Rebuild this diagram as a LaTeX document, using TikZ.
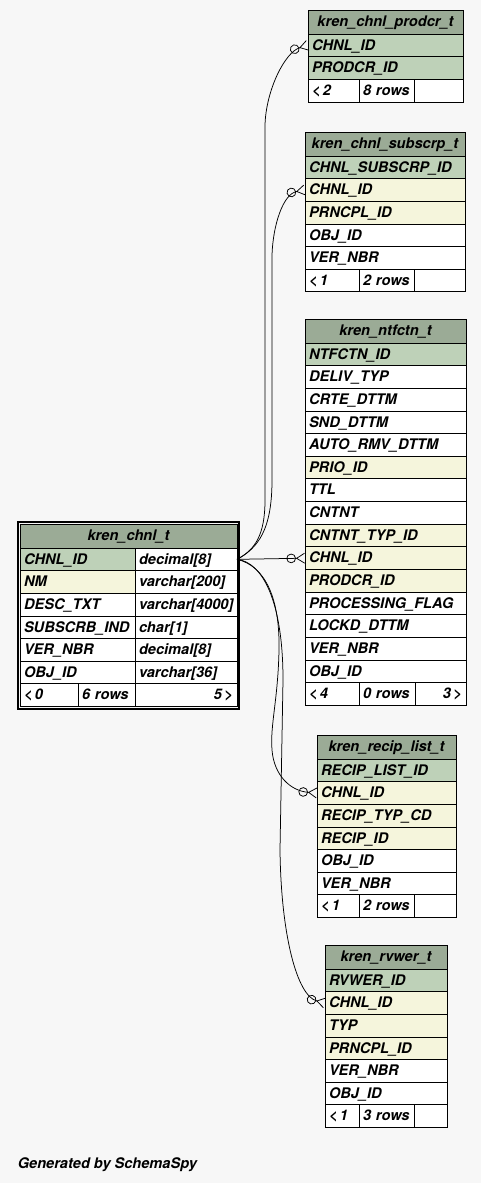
\documentclass[tikz,border=0pt]{standalone}
\usepackage{fontspec}
\setmainfont{TeX Gyre Heros}
\usepackage{xcolor}
\usepackage{tikz}
\usetikzlibrary{arrows.meta}
\usetikzlibrary{positioning}
\definecolor{bggray}{HTML}{F7F7F7}
\definecolor{headgreen}{HTML}{9BAB96}
\definecolor{keygreen}{HTML}{BED1B8}
\definecolor{idxbeige}{HTML}{F5F5DC}
\newcommand{\tfont}{\fontsize{14.6}{16}\selectfont\bfseries\itshape}

\begin{document}
\begin{tikzpicture}[x=1pt,y=-1pt,line width=0.9pt,
    cell/.style={rectangle,draw,fill=white,text width=#1,minimum height=22.65pt,
      inner xsep=4pt,inner ysep=0pt,outer sep=0pt,text height=10.5pt,text depth=1pt,
      align=left,font=\tfont},
    head/.style={cell=#1,fill=headgreen,minimum height=24pt,align=center}]
    \tikzstyle{pkcol} = [fill=keygreen]
    \tikzstyle{idxcol} = [fill=idxbeige]
    \tikzstyle{fk} = [line width=0.75pt,-{Circle[open,length=9.5pt] Straight Barb[reversed,length=8pt,width=10pt]}]
    \fill[bggray] (0,0) rectangle (481,1183);
    \useasboundingbox (0,0) rectangle (481,1183);
        %%% kren_chnl_prodcr_t %%%
        \node[head=147,anchor=north west] (prodcr) at (308,10) {kren\_chnl\_prodcr\_t};
        \node[cell=147,pkcol,below=0pt of prodcr] (prodcr1) {CHNL\_ID};
        \node[cell=147,pkcol,below=0pt of prodcr1] (prodcr2) {PRODCR\_ID};
        \node[cell=43,anchor=north west] (prodcrf1) at (prodcr2.south west) {<\,2};
        \node[cell=47,right=0pt of prodcrf1] (prodcrf2) {8 rows};
        \node[cell=41,right=0pt of prodcrf2] (prodcrf3) {};
        %%% kren_chnl_subscrp_t %%%
        \node[head=152,anchor=north west] (subscrp) at (305,132) {kren\_chnl\_subscrp\_t};
        \node[cell=152,pkcol,below=0pt of subscrp] (subscrp1) {CHNL\_SUBSCRP\_ID};
        \node[cell=152,idxcol,below=0pt of subscrp1] (subscrp2) {CHNL\_ID};
        \node[cell=152,idxcol,below=0pt of subscrp2] (subscrp3) {PRNCPL\_ID};
        \node[cell=152,below=0pt of subscrp3] (subscrp4) {OBJ\_ID};
        \node[cell=152,below=0pt of subscrp4] (subscrp5) {VER\_NBR};
        \node[cell=46,anchor=north west] (subscrpf1) at (subscrp5.south west) {<\,1};
        \node[cell=47,right=0pt of subscrpf1] (subscrpf2) {2 rows};
        \node[cell=43,right=0pt of subscrpf2] (subscrpf3) {};
        %%% kren_ntfctn_t %%%
        \node[head=153,anchor=north west] (ntfctn) at (305,319) {kren\_ntfctn\_t};
        \node[cell=153,pkcol,below=0pt of ntfctn] (ntfctn1) {NTFCTN\_ID};
        \node[cell=153,below=0pt of ntfctn1] (ntfctn2) {DELIV\_TYP};
        \node[cell=153,below=0pt of ntfctn2] (ntfctn3) {CRTE\_DTTM};
        \node[cell=153,below=0pt of ntfctn3] (ntfctn4) {SND\_DTTM};
        \node[cell=153,below=0pt of ntfctn4] (ntfctn5) {AUTO\_RMV\_DTTM};
        \node[cell=153,idxcol,below=0pt of ntfctn5] (ntfctn6) {PRIO\_ID};
        \node[cell=153,below=0pt of ntfctn6] (ntfctn7) {TTL};
        \node[cell=153,below=0pt of ntfctn7] (ntfctn8) {CNTNT};
        \node[cell=153,idxcol,below=0pt of ntfctn8] (ntfctn9) {CNTNT\_TYP\_ID};
        \node[cell=153,idxcol,below=0pt of ntfctn9] (ntfctn10) {CHNL\_ID};
        \node[cell=153,idxcol,below=0pt of ntfctn10] (ntfctn11) {PRODCR\_ID};
        \node[cell=153,below=0pt of ntfctn11] (ntfctn12) {PROCESSING\_FLAG};
        \node[cell=153,below=0pt of ntfctn12] (ntfctn13) {LOCKD\_DTTM};
        \node[cell=153,below=0pt of ntfctn13] (ntfctn14) {VER\_NBR};
        \node[cell=153,below=0pt of ntfctn14] (ntfctn15) {OBJ\_ID};
        \node[cell=46,anchor=north west] (ntfctnf1) at (ntfctn15.south west) {<\,4};
        \node[cell=48,right=0pt of ntfctnf1] (ntfctnf2) {0 rows};
        \node[cell=43,align=right,right=0pt of ntfctnf2] (ntfctnf3) {3\,>};
        %%% kren_chnl_t %%%
        \node[head=209,anchor=north west] (chnl) at (20,524) {kren\_chnl\_t};
        \node[cell=107,pkcol,anchor=north west] (chnl1) at (chnl.south west) {CHNL\_ID};
        \node[cell=94,right=0pt of chnl1] (chnl1t) {decimal[8]};
        \node[cell=107,idxcol,below=0pt of chnl1] (chnl2) {NM};
        \node[cell=94,right=0pt of chnl2] (chnl2t) {varchar[200]};
        \node[cell=107,below=0pt of chnl2] (chnl3) {DESC\_TXT};
        \node[cell=94,right=0pt of chnl3] (chnl3t) {varchar[4000]};
        \node[cell=107,below=0pt of chnl3] (chnl4) {SUBSCRB\_IND};
        \node[cell=94,right=0pt of chnl4] (chnl4t) {char[1]};
        \node[cell=107,below=0pt of chnl4] (chnl5) {VER\_NBR};
        \node[cell=94,right=0pt of chnl5] (chnl5t) {decimal[8]};
        \node[cell=107,below=0pt of chnl5] (chnl6) {OBJ\_ID};
        \node[cell=94,right=0pt of chnl6] (chnl6t) {varchar[36]};
        \node[cell=50,anchor=north west] (chnlf1) at (chnl6.south west) {<\,0};
        \node[cell=49,right=0pt of chnlf1] (chnlf2) {6 rows};
        \node[cell=94,align=right,right=0pt of chnlf2] (chnlf3) {5\,>};
        \draw[line width=2pt] (18,522) rectangle (239,708.5);
        %%% kren_recip_list_t %%%
        \node[head=131,anchor=north west] (recip) at (317,735) {kren\_recip\_list\_t};
        \node[cell=131,pkcol,below=0pt of recip] (recip1) {RECIP\_LIST\_ID};
        \node[cell=131,idxcol,below=0pt of recip1] (recip2) {CHNL\_ID};
        \node[cell=131,idxcol,below=0pt of recip2] (recip3) {RECIP\_TYP\_CD};
        \node[cell=131,idxcol,below=0pt of recip3] (recip4) {RECIP\_ID};
        \node[cell=131,below=0pt of recip4] (recip5) {OBJ\_ID};
        \node[cell=131,below=0pt of recip5] (recip6) {VER\_NBR};
        \node[cell=34,anchor=north west] (recipf1) at (recip6.south west) {<\,1};
        \node[cell=47,right=0pt of recipf1] (recipf2) {2 rows};
        \node[cell=34,right=0pt of recipf2] (recipf3) {};
        %%% kren_rvwer_t %%%
        \node[head=114,anchor=north west] (rvwer) at (325,945) {kren\_rvwer\_t};
        \node[cell=114,pkcol,below=0pt of rvwer] (rvwer1) {RVWER\_ID};
        \node[cell=114,idxcol,below=0pt of rvwer1] (rvwer2) {CHNL\_ID};
        \node[cell=114,idxcol,below=0pt of rvwer2] (rvwer3) {TYP};
        \node[cell=114,idxcol,below=0pt of rvwer3] (rvwer4) {PRNCPL\_ID};
        \node[cell=114,below=0pt of rvwer4] (rvwer5) {VER\_NBR};
        \node[cell=114,below=0pt of rvwer5] (rvwer6) {OBJ\_ID};
        \node[cell=26,anchor=north west] (rvwerf1) at (rvwer6.south west) {<\,1};
        \node[cell=47,right=0pt of rvwerf1] (rvwerf2) {3 rows};
        \node[cell=25,right=0pt of rvwerf2] (rvwerf3) {};
        %%% foreign keys
        \draw[fk] (chnl1t.east) .. controls (255,550) and (265,535) .. (265,500)
            -- (265,125) .. controls (266,90) and (285,52) .. (prodcr1.west);
        \draw[fk] (chnl1t.east) .. controls (258,548) and (272,530) .. (272,480)
            -- (272,255) .. controls (273,225) and (283,194) .. (subscrp2.west);
        \draw[fk] (chnl1t.east) -- (ntfctn10.west);
        \draw[fk] (chnl1t.east) .. controls (266,566) and (280,600) .. (279,650)
            .. controls (278,700) and (270,725) .. (272,750)
            .. controls (274,775) and (290,791) .. (recip2.west);
        \draw[fk] (chnl1t.east) .. controls (262,562) and (283,600) .. (283,680)
            -- (280,850) .. controls (281,935) and (297,996) .. (rvwer2.west);
        %%% label
        \node[anchor=base west,font=\tfont] (credit) at (14,1168) {Generated by SchemaSpy};
\end{tikzpicture}
\end{document}
